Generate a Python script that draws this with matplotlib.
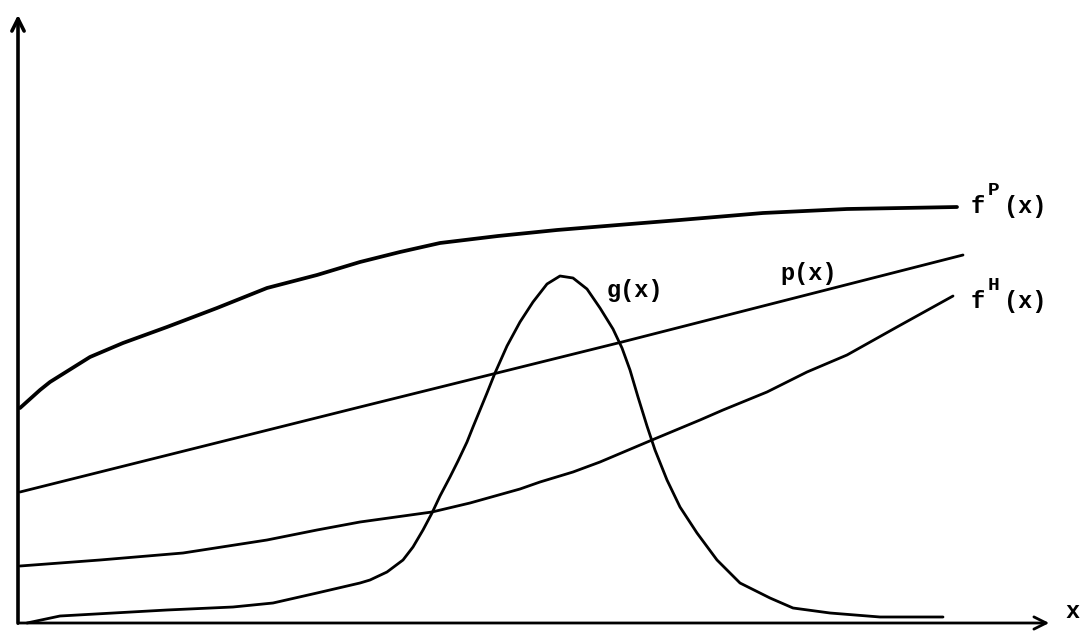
import numpy as np
from matplotlib import pyplot as plt

# values (arbitrary units, origin at the axes corner)
fp_x = [0.02, 0.22, 0.32, 0.72, 1.05, 1.49, 1.99, 2.49, 2.99, 3.42, 3.82, 4.22, 4.80, 5.39, 6.00, 6.62, 7.45, 8.29, 9.39]
fp_y = [2.17, 2.35, 2.43, 2.68, 2.82, 2.98, 3.17, 3.37, 3.50, 3.63, 3.73, 3.82, 3.89, 3.95, 4.00, 4.05, 4.12, 4.16, 4.18]

p_x = [0.02, 3.42, 6.04, 9.45]
p_y = [1.33, 2.18, 2.83, 3.70]

fh_x = [0.02, 0.82, 1.65, 2.49, 2.99, 3.42, 4.14, 4.52, 5.02, 5.22, 5.55, 5.82, 6.34,
        6.82, 7.05, 7.49, 7.89, 8.29, 8.79, 9.35]
fh_y = [0.59, 0.65, 0.72, 0.85, 0.95, 1.03, 1.13, 1.22, 1.36, 1.43, 1.53, 1.63, 1.85,
        2.05, 2.15, 2.33, 2.53, 2.70, 2.98, 3.29]

g_x = [0.09, 0.42, 1.49, 2.15, 2.55, 2.99, 3.42, 3.52, 3.69, 3.85, 3.95, 4.05, 4.14, 4.22,
       4.32, 4.40, 4.49, 4.55, 4.62, 4.69, 4.77, 4.85, 4.89, 5.02, 5.15, 5.29, 5.42, 5.55,
       5.69, 5.82, 5.95, 6.04, 6.12, 6.20, 6.29, 6.37, 6.49, 6.62, 6.79, 6.99, 7.22, 7.52,
       7.75, 8.12, 8.62, 9.25]
g_y = [0.02, 0.09, 0.15, 0.18, 0.22, 0.32, 0.42, 0.45, 0.53, 0.65, 0.78, 0.95, 1.12, 1.29,
       1.48, 1.64, 1.83, 1.98, 2.15, 2.32, 2.52, 2.70, 2.79, 3.03, 3.23, 3.41, 3.49, 3.47,
       3.36, 3.17, 2.96, 2.77, 2.55, 2.28, 1.99, 1.75, 1.45, 1.18, 0.92, 0.65, 0.42, 0.27,
       0.17, 0.12, 0.08, 0.08]

fig = plt.figure(figsize=(10.85, 6.31), dpi=100)
ax = fig.add_axes([0, 0, 1, 1])
ax.set_xlim(-0.18, 10.67)
ax.set_ylim(-0.06, 6.25)
ax.axis('off')

ax.plot(fp_x, fp_y, color='black', lw=2.7, solid_capstyle='round', solid_joinstyle='round')
ax.plot(p_x, p_y, color='black', lw=2.0, solid_capstyle='round')
ax.plot(fh_x, fh_y, color='black', lw=2.0, solid_capstyle='round', solid_joinstyle='round')
ax.plot(g_x, g_y, color='black', lw=2.0, solid_capstyle='round', solid_joinstyle='round')

# axes with arrow heads
ax.annotate('', xy=(0, 6.13), xytext=(0, -0.01),
            arrowprops=dict(arrowstyle='->', lw=2.6, color='black', mutation_scale=22))
ax.annotate('', xy=(10.34, 0.02), xytext=(-0.01, 0.02),
            arrowprops=dict(arrowstyle='->', lw=2.0, color='black', mutation_scale=22))

lab = dict(fontsize=17, color='black', va='baseline', ha='left',
           family='Liberation Mono', weight='bold')
sup = dict(lab, fontsize=14)
ax.text(9.53, 4.12, 'f', **lab)
ax.text(9.70, 4.30, 'P', **sup)
ax.text(9.86, 4.12, '(x)', **lab)
ax.text(7.62, 3.45, 'p(x)', **lab)
ax.text(9.53, 3.17, 'f', **lab)
ax.text(9.70, 3.35, 'H', **sup)
ax.text(9.86, 3.17, '(x)', **lab)
ax.text(5.89, 3.28, 'g(x)', **lab)
ax.text(10.47, 0.07, 'x', **lab)

fig.savefig('out.png', dpi=100)
